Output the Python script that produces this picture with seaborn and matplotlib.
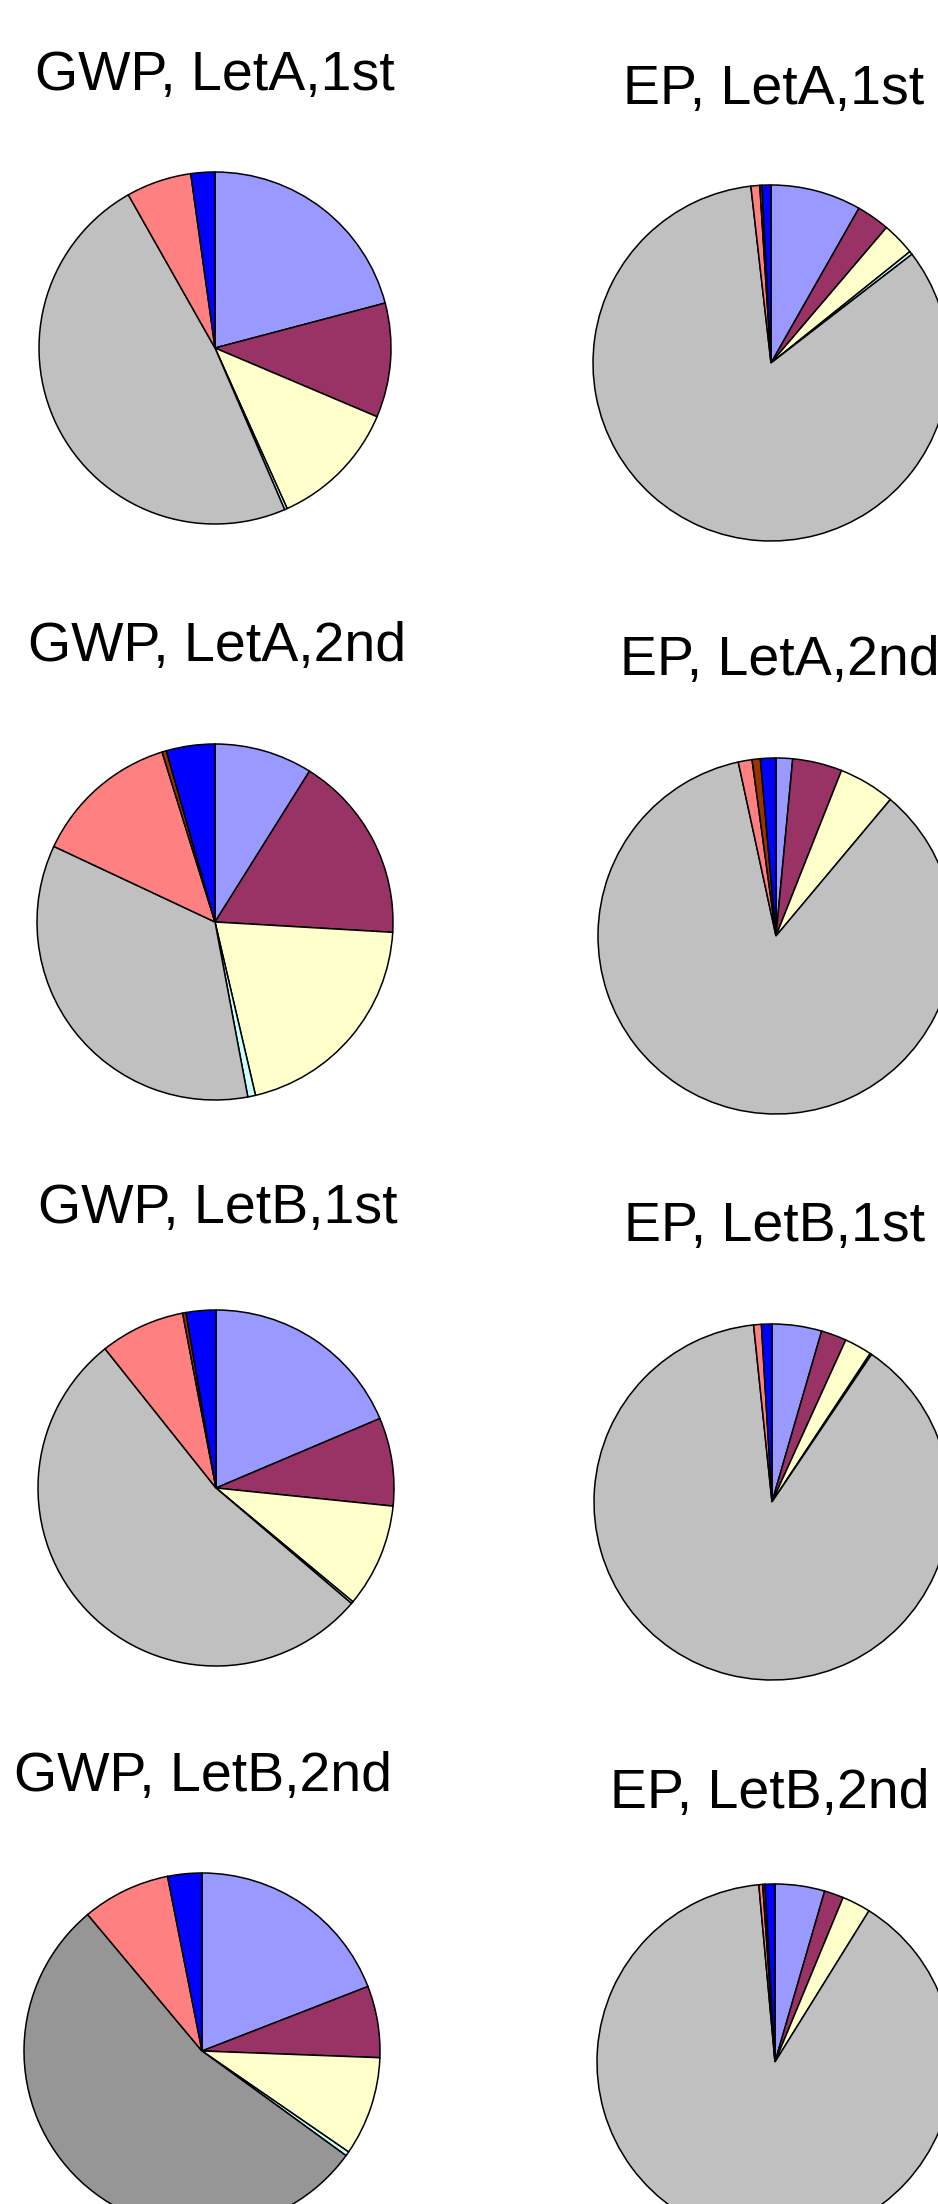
import matplotlib
matplotlib.use("Agg")
import matplotlib.pyplot as plt
import seaborn as sns

# Share of each life-cycle component (percent), clockwise from 12 o'clock
components = ["C1", "C2", "C3", "C4", "C5", "C6", "C7", "C8"]

gwp_leta_1st = [20.9, 10.5, 11.9, 0.25, 48.3, 6.0, 0.0, 2.2]
ep_leta_1st = [8.2, 3.0, 3.0, 0.3, 83.4, 0.8, 0.2, 0.8]
gwp_leta_2nd = [8.9, 17.0, 20.4, 0.7, 34.9, 13.2, 0.4, 4.4]
ep_leta_2nd = [1.5, 4.5, 5.1, 0.0, 85.5, 1.25, 0.75, 1.4]
gwp_letb_1st = [18.6, 8.0, 9.4, 0.2, 53.0, 7.7, 0.3, 2.7]
ep_letb_1st = [4.5, 2.3, 2.5, 0.15, 88.9, 0.7, 0.0, 0.95]
gwp_letb_2nd = [19.1, 6.5, 9.0, 0.4, 53.9, 8.0, 0.0, 3.1]
ep_letb_2nd = [4.5, 1.75, 2.6, 0.0, 89.7, 0.35, 0.2, 0.9]

titles = ["GWP, LetA,1st", "EP, LetA,1st",
          "GWP, LetA,2nd", "EP, LetA,2nd",
          "GWP, LetB,1st", "EP, LetB,1st",
          "GWP, LetB,2nd", "EP, LetB,2nd"]

series = [gwp_leta_1st, ep_leta_1st, gwp_leta_2nd, ep_leta_2nd,
          gwp_letb_1st, ep_letb_1st, gwp_letb_2nd, ep_letb_2nd]

sns.set_theme(style="white")
plt.rcParams["font.family"] = ["Liberation Sans", "DejaVu Sans"]

base_colors = sns.color_palette(["#9999FF", "#993366", "#FFFFCC", "#CCFFFF",
                                 "#C0C0C0", "#FF8080", "#993300", "#0000FF"])

W, H, DPI = 938, 2204, 100
fig = plt.figure(figsize=(W / DPI, H / DPI), dpi=DPI)
fig.patch.set_facecolor("white")

# pie placement in pixels: centre x, centre y (from top), radius
pie_boxes = [(215, 348, 176), (771, 363, 178),
             (215, 922, 178), (776, 936, 178),
             (216, 1488, 178), (772, 1502, 178),
             (202, 2051, 178), (775, 2062, 178)]
# title anchor in pixels: left x, baseline y (from top)
title_pos = [(35, 90), (623, 104), (28, 661), (620, 675),
             (38, 1223), (624, 1241), (14, 1791), (610, 1808)]
# darker grey for the main component of one panel
color_override = {6: {4: "#969696"}}

for i, (vals, title) in enumerate(zip(series, titles)):
    cx, cy, r = pie_boxes[i]
    ax = fig.add_axes([(cx - r) / W, (H - cy - r) / H, 2 * r / W, 2 * r / H])
    cols = list(base_colors)
    for k, c in color_override.get(i, {}).items():
        cols[k] = c
    pairs = [(v, c) for v, c in zip(vals, cols) if v > 0]
    wedges, _ = ax.pie([p[0] for p in pairs], colors=[p[1] for p in pairs],
                       startangle=90, counterclock=False, radius=1.0,
                       wedgeprops=dict(edgecolor="black", linewidth=1.1))
    for w in wedges:
        w.set_clip_on(False)
    ax.set_aspect("auto")
    ax.set_xlim(-1, 1)
    ax.set_ylim(-1, 1)
    ax.axis("off")

    tx, ty = title_pos[i]
    fig.text(tx / W, 1 - ty / H, title, ha="left", va="baseline",
             fontsize=40, color="black")

fig.savefig("out.png", dpi=DPI, facecolor="white")
